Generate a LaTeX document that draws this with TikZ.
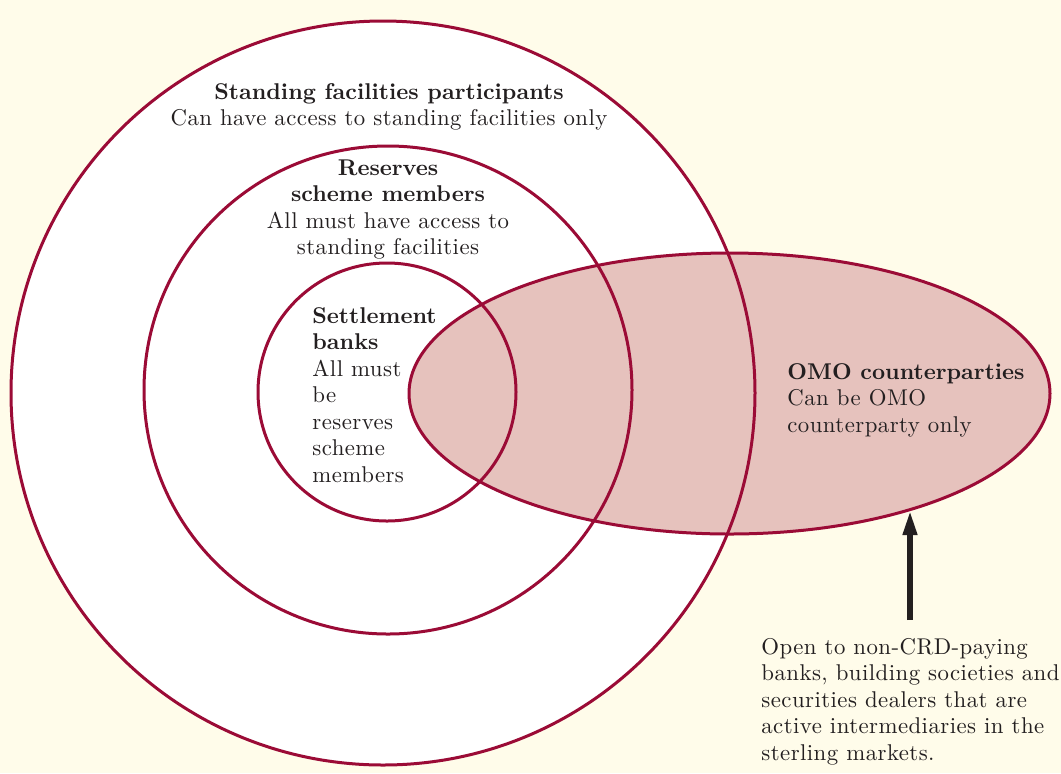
\documentclass[tikz,border=0pt]{standalone}
\usepackage{fontspec}
\setmainfont{lmroman}[Extension=.otf,UprightFont=*10-regular,
  BoldFont=*10-bold,LetterSpace=2,BoldFeatures={LetterSpace=0}]
\usepackage{xcolor}
\definecolor{cPaper}{HTML}{FFFCEA}
\definecolor{cRing}{HTML}{9B0B36}
\definecolor{cOmo}{HTML}{E6C2BD}
\definecolor{cInk}{HTML}{231F20}
\usepackage{tikz}
\usetikzlibrary{positioning,arrows.meta,shapes.geometric,backgrounds}
\tikzset{
  node-ring/.style={draw=cRing,line width=1.5pt,circle,inner sep=0pt},
  node-omo/.style={draw=cRing,line width=1.5pt,ellipse,inner sep=0pt},
  node-text/.style={inner sep=0pt,text=cInk,
    font=\fontsize{11.4}{13.25}\selectfont},
  arrow/.style={-{Triangle[length=12.5pt,width=6.6pt]},line width=3pt,draw=cInk},
}

\begin{document}
\begin{tikzpicture}[x=0.5pt,y=-0.5pt]
  \useasboundingbox (0,0) rectangle (1061,773);

  % rings
  \node[node-ring,minimum size=372pt] (outer) at (383,393) {};
  \node[node-ring,minimum size=244pt] (middle) at (388,390) {};
  \node[node-ring,minimum size=129pt] (inner) at (387,392) {};
  \node[node-omo,minimum width=320.5pt,minimum height=140.5pt] (omo) at (729.5,393.5) {};

  % fills under the outlines
  \begin{scope}[on background layer]
    \fill[cPaper] (0,0) rectangle (1061,773);
    \fill[white] (outer.center) circle[radius=186pt];
    \fill[cOmo] (omo.center) ellipse[x radius=160.25pt,y radius=70.25pt];
  \end{scope}

  % labels
  \node[node-text,align=center,anchor=north] (sf-label) at (389,83)
    {\textbf{Standing facilities participants}\\Can have access to standing facilities only};
  \node[node-text,align=center,anchor=north] (rs-label) at (388,159)
    {\textbf{Reserves}\\\textbf{scheme members}\\All must have access to\\standing facilities};
  \node[node-text,align=left,anchor=north west] (sb-label) at (312,307)
    {\textbf{Settlement}\\\textbf{banks}\\All must\\be\\reserves\\scheme\\members};
  \node[node-text,align=left,anchor=north west] (omo-label) at (787,363)
    {\textbf{OMO counterparties}\\Can be OMO\\counterparty only};
  \node[node-text,align=left,anchor=north west] (note) at (761,638)
    {Open to non-CRD-paying\\banks, building societies and\\securities dealers that are\\active intermediaries in the\\sterling markets.};

  \coordinate (arrow-start) at (910,620);
  \coordinate (arrow-end) at (910,510);
  \draw[arrow] (arrow-start) -- (arrow-end);
\end{tikzpicture}
\end{document}
